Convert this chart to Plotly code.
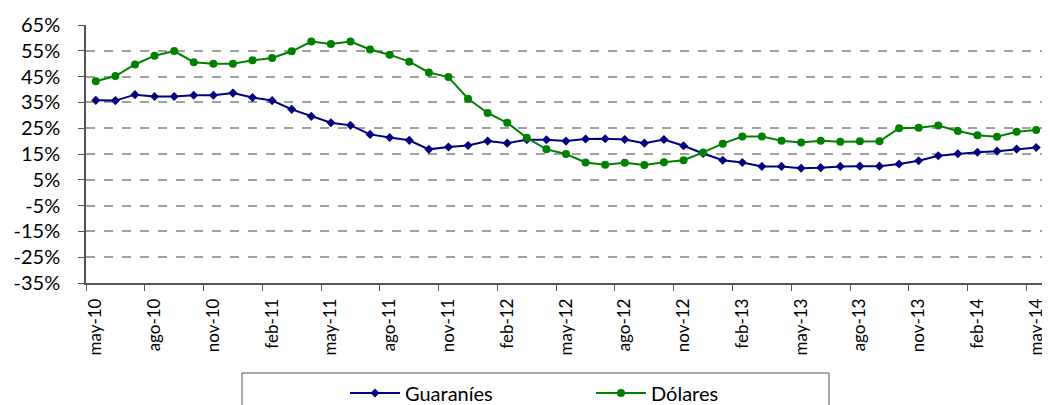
import plotly.graph_objects as go

# months may-10 .. may-14
meses = ['ene', 'feb', 'mar', 'abr', 'may', 'jun', 'jul', 'ago', 'sep', 'oct', 'nov', 'dic']
fechas = []
for i in range(49):
    m = (4 + i) % 12
    y = 10 + (4 + i) // 12
    fechas.append(f"{meses[m]}-{y}")

guaranies = [35.8, 35.7, 38.0, 37.3, 37.3, 37.8, 37.8, 38.6, 36.9, 35.7, 32.3, 29.6, 27.1,
             26.1, 22.6, 21.4, 20.3, 16.8, 17.7, 18.3, 20.0, 19.2, 20.5, 20.5, 20.0, 20.8,
             20.9, 20.6, 19.2, 20.6, 18.2, 15.2, 12.6, 11.7, 10.2, 10.2, 9.5, 9.7, 10.2,
             10.3, 10.3, 11.1, 12.4, 14.3, 15.1, 15.7, 16.1, 16.9, 17.5]
dolares = [43.2, 45.2, 49.7, 53.1, 54.9, 50.6, 50.0, 50.0, 51.3, 52.2, 54.8, 58.6, 57.6,
           58.6, 55.5, 53.5, 50.8, 46.6, 44.8, 36.4, 30.9, 27.1, 21.3, 16.8, 15.0, 11.7,
           10.8, 11.6, 10.7, 11.8, 12.6, 15.6, 19.0, 21.8, 21.8, 20.1, 19.5, 20.1, 19.7,
           19.9, 19.9, 25.0, 25.2, 26.0, 23.9, 22.3, 21.7, 23.6, 24.3]

y_ticks = list(range(-35, 66, 10))

fig = go.Figure()
fig.add_trace(go.Scatter(x=fechas, y=guaranies, name="Guaraníes", mode="lines+markers",
                         line=dict(color="#000080", width=2),
                         marker=dict(symbol="diamond", size=7, color="#000080")))
fig.add_trace(go.Scatter(x=fechas, y=dolares, name="Dólares", mode="lines+markers",
                         line=dict(color="#008000", width=2),
                         marker=dict(symbol="circle", size=8, color="#008000")))

# legend frame (wider than the legend items, runs off the bottom)
fig.add_shape(type="rect", xref="paper", yref="paper",
              x0=0.1625, x1=0.774, y0=-0.6, y1=-0.3488,
              line=dict(color="#555555", width=1), fillcolor="white", layer="below")

# page has an 8px body margin, so the figure is 8px smaller than the window
fig.update_layout(
    width=1042, height=397,
    margin=dict(l=78, r=4, t=17, b=122, autoexpand=False),
    paper_bgcolor="white", plot_bgcolor="white",
    font=dict(family="Lato, DejaVu Sans, sans-serif", size=16, color="black"),
    showlegend=True,
    legend=dict(orientation="h", x=0.2698, xanchor="left", y=-0.351, yanchor="top",
                borderwidth=0, bgcolor="rgba(0,0,0,0)", entrywidth=181,
                font=dict(size=20), itemwidth=50),
)
fig.update_xaxes(type="category", tickmode="linear", dtick=3, tickson="boundaries",
                 ticks="outside", ticklen=6, tickcolor="#555555", tickangle=-90,
                 showline=True, linecolor="#555555", linewidth=1.5, showgrid=False,
                 range=[-0.5, 48.5], tickfont=dict(size=17), ticklabelstandoff=7,
                 automargin=False)
fig.update_yaxes(range=[-35, 65], tickvals=y_ticks, ticktext=[f"{v}%" for v in y_ticks],
                 showgrid=True, gridcolor="#a0a0a0", griddash="dash", gridwidth=1.5,
                 showline=True, linecolor="#555555", linewidth=1.5,
                 ticks="outside", ticklen=6, tickcolor="#555555", ticklabelstandoff=14,
                 zeroline=False, tickfont=dict(size=20), automargin=False)

fig.write_html("out.html")
